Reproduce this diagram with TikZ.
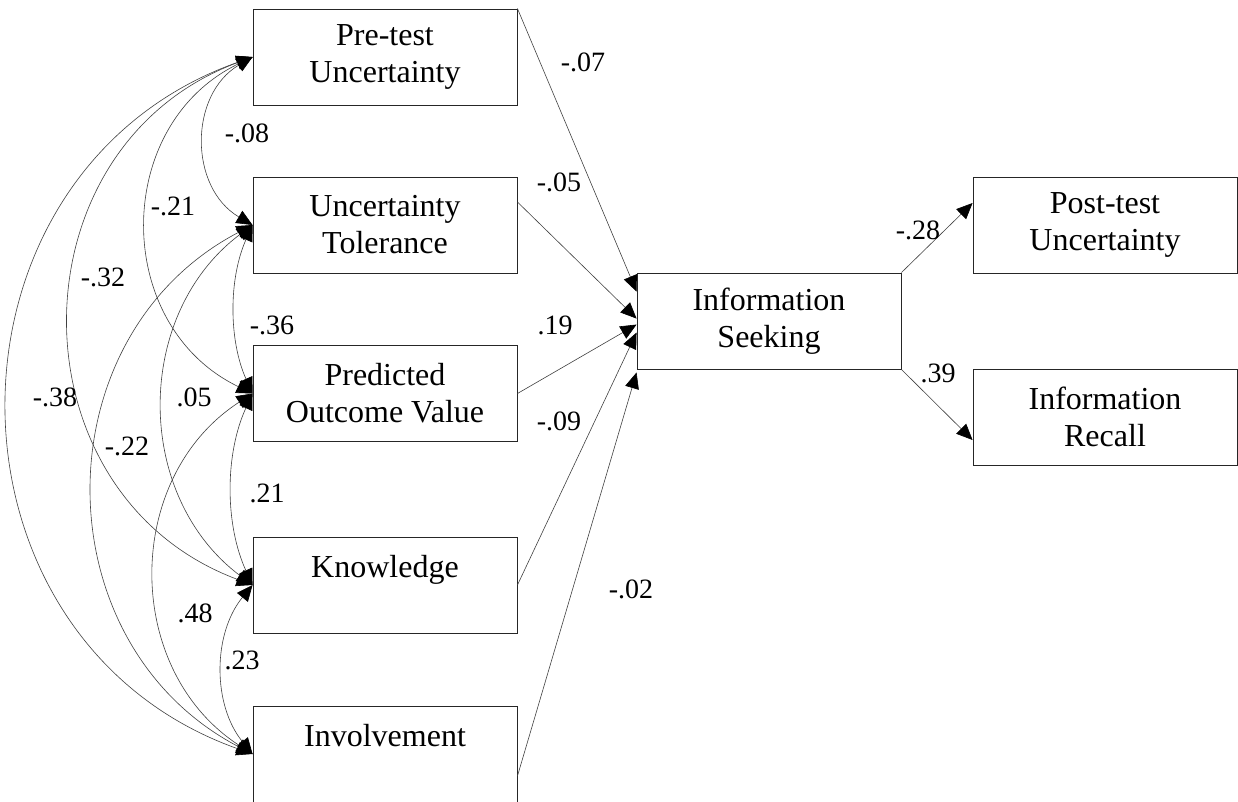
\documentclass[tikz,border=0pt]{standalone}
\usepackage{fontspec}
\setmainfont{Liberation Serif}
\usetikzlibrary{arrows.meta,calc}
\tikzset{
  varbox/.style={draw=black!85,line width=0.9pt,minimum width=264pt,
                 minimum height=96pt,align=center,inner sep=0pt,
                 font=\fontsize{32}{37}\selectfont},
  patharr/.style={-{Triangle[length=16pt,width=14pt,color=black]},
                  line width=0.6pt,draw=black!75},
  covarr/.style={{Triangle[length=16pt,width=14pt,color=black]}-{Triangle[length=16pt,width=14pt,color=black]},
                 line width=0.6pt,draw=black!75},
  coef/.style={inner sep=0pt,font=\fontsize{28}{32}\selectfont}
}
\begin{document}
\begin{tikzpicture}[x=1pt,y=-1pt]
  \path[use as bounding box] (0,0) rectangle (1238,801);
  % exogenous variables
  \node[varbox] (pre)  at (385,57)    {Pre-test\\Uncertainty};
  \node[varbox] (tol)  at (385,225)   {Uncertainty\\Tolerance};
  \node[varbox] (pov)  at (385,393.5) {Predicted\\Outcome Value};
  \node[varbox] (know) at (385,585)   {Knowledge\\~};
  \node[varbox] (inv)  at (385,754)   {Involvement\\~};
  % mediator and outcomes
  \node[varbox] (seek)   at (769,321)  {Information\\Seeking};
  \node[varbox] (post)   at (1105,225) {Post-test\\Uncertainty};
  \node[varbox] (recall) at (1105,417) {Information\\Recall};

  \coordinate (s1) at ($(seek.north west)+(0,19)$);
  \coordinate (s2) at ($(seek.north west)+(0,46)$);
  \coordinate (s3) at ($(seek.north west)+(0,52)$);
  \coordinate (s4) at ($(seek.north west)+(0,60)$);
  \coordinate (s5) at ($(seek.south west)+(0,3)$);

  \draw[patharr] (pre.north east) -- (s1);
  \draw[patharr] ($(tol.east)+(0,-23)$) -- (s2);
  \draw[patharr] (pov.east) -- (s3);
  \draw[patharr] (know.east) -- (s4);
  \draw[patharr] ($(inv.east)+(0,22)$) -- (s5);
  \draw[patharr] (seek.north east) -- ($(post.west)+(0,-22)$);
  \draw[patharr] (seek.south east) -- ($(recall.west)+(0,23)$);

  % correlations among predictors
  \foreach \a/\b/\ang/\lo in {pre/tol/59.5/1.13, pre/pov/64.2/1.19,
      pre/know/69.6/1.26, pre/inv/70.4/1.27, tol/pov/24.2/0.89,
      tol/know/53.1/1.06, tol/inv/62.4/1.16, pov/know/24.7/0.89,
      pov/inv/57.1/1.10, know/inv/39.3/0.96}
    \draw[covarr] (\a.west) to[bend right=\ang,looseness=\lo] (\b.west);

  % path coefficients
  \node[coef] (c07) at (583,62)  {-.07};
  \node[coef] (c05) at (559,182) {-.05};
  \node[coef] (c19) at (555,325) {.19};
  \node[coef] (c09) at (559,421) {-.09};
  \node[coef] (c02) at (631,589) {-.02};
  \node[coef] (c28) at (918,230) {-.28};
  \node[coef] (c39) at (938,373) {.39};
  % correlations
  \node[coef] (r08) at (247,133) {-.08};
  \node[coef] (r21) at (173,206) {-.21};
  \node[coef] (r32) at (103,277) {-.32};
  \node[coef] (r36) at (272,325) {-.36};
  \node[coef] (r38) at (55,397)  {-.38};
  \node[coef] (r05) at (194,397) {.05};
  \node[coef] (r22) at (127,446) {-.22};
  \node[coef] (p21) at (267,493) {.21};
  \node[coef] (p48) at (195,613) {.48};
  \node[coef] (p23) at (242,660) {.23};
\end{tikzpicture}
\end{document}
